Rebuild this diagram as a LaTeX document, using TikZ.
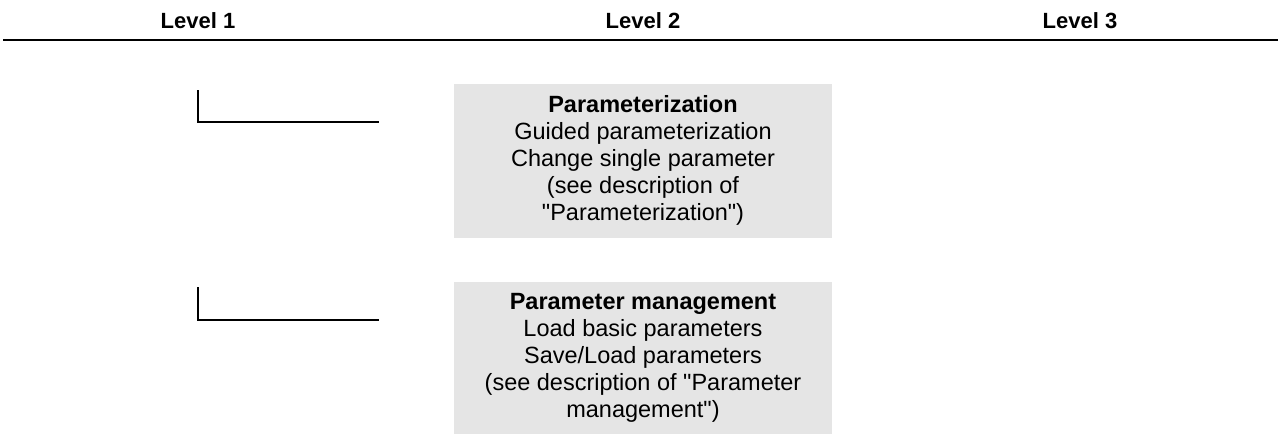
\documentclass[tikz,border=0pt]{standalone}
\usepackage{fontspec}
\setmainfont{Liberation Sans}
\definecolor{boxgray}{HTML}{E5E5E5}
\begin{document}
\begin{tikzpicture}[x=1pt,y=-1pt,
  head/.style={font=\fontsize{22}{25}\selectfont\bfseries, anchor=base},
  infotext/.style={align=center, inner sep=0pt, anchor=north,
     font=\fontsize{23.5}{27}\selectfont},
  bracket/.style={line width=2pt, line cap=rect}]
\useasboundingbox (0,0) rectangle (1278,434);
\node[head] (l1) at (198,28) {Level 1};
\node[head] (l2) at (643,28) {Level 2};
\node[head] (l3) at (1080,28) {Level 3};
\coordinate (rl) at (3,40);
\coordinate (rr) at (1278,40);
\draw[line width=2.5pt] (rl) -- (rr);

\fill[boxgray] (454,84) rectangle (832,238);
\node[infotext] (b1) at (643,95.2) {\textbf{Parameterization}\\Guided parameterization\\Change single parameter\\(see description of\\\textquotedbl Parameterization\textquotedbl)};
\fill[boxgray] (454,282) rectangle (832,434);
\node[infotext] (b2) at (643,293.5) {\textbf{Parameter management}\\Load basic parameters\\Save/Load parameters\\(see description of \textquotedbl Parameter\\management\textquotedbl)};

\coordinate (a1) at (198,91);
\coordinate (a2) at (198,122);
\coordinate (a3) at (378,122);
\draw[bracket] (a1) -- (a2) -- (a3);
\coordinate (c1) at (198,288);
\coordinate (c2) at (198,320);
\coordinate (c3) at (378,320);
\draw[bracket] (c1) -- (c2) -- (c3);
\end{tikzpicture}
\end{document}
